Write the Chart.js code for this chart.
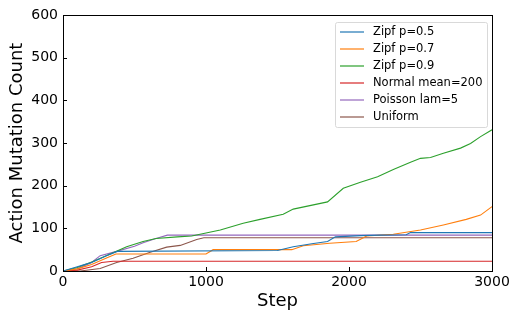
<!DOCTYPE html>
<html><head><meta charset="utf-8">
<script src="https://cdn.jsdelivr.net/npm/chart.js@4/dist/chart.umd.min.js"></script>
<style>html,body{margin:0;padding:0;background:#fff}#wrap{width:513px;height:312px}</style>
</head><body><div id="wrap"><canvas id="c" width="513" height="312"></canvas></div>
<script>
const seriesLabels = ["Zipf p=0.5","Zipf p=0.7","Zipf p=0.9","Normal mean=200","Poisson lam=5","Uniform"];
const seriesColors = ["#1f77b4","#ff7f0e","#2ca02c","#d62728","#9467bd","#8c564b"];
const xTicks = [0,1000,2000,3000];
const yTicks = [0,100,200,300,400,500,600];

const zipf05Steps = [0,100,150,200,300,380,1500,1610,1740,1850,1905,2080,2220,2400,2430,3000];
const zipf05Vals  = [0,10,15,20,35,46,48,57,64,69,80,83,84,85,90,90];
const zipf07Steps = [0,100,200,300,370,1000,1050,1600,1680,1865,2050,2124,2310,2500,2660,2820,2920,3000];
const zipf07Vals  = [0,5,15,30,40,40,50,50,59,65,69,82,86,96,108,121,131,151];
const zipf09Steps = [0,100,210,330,445,560,650,800,900,1000,1100,1260,1378,1540,1610,1850,1960,2080,2200,2310,2430,2500,2570,2660,2780,2850,2920,3000];
const zipf09Vals  = [0,8,22,40,57,69,76,80,82,89,96,112,121,133,145,162,194,208,221,238,255,264,266,276,288,299,315,331];
const normalSteps = [0,100,200,270,350,3000];
const normalVals  = [0,2,10,20,23,23];
const poissonSteps = [0,100,200,260,375,500,560,650,730,3000];
const poissonVals  = [0,5,20,36,46,58,66,76,84,84];
const uniformSteps = [0,120,260,375,490,610,725,820,935,985,3000];
const uniformVals  = [0,0,6,20,30,44,56,60,74,78,78];

const allSteps = [zipf05Steps,zipf07Steps,zipf09Steps,normalSteps,poissonSteps,uniformSteps];
const allVals  = [zipf05Vals,zipf07Vals,zipf09Vals,normalVals,poissonVals,uniformVals];

const datasets = seriesLabels.map((lab,i)=>({
  label: lab,
  data: allSteps[i].map((s,j)=>({x:s,y:allVals[i][j]})),
  borderColor: seriesColors[i],
  backgroundColor: seriesColors[i],
  borderWidth: 1.1,
  pointRadius: 0,
  fill: false,
  tension: 0
}));

const FONT = "'DejaVu Sans', sans-serif";

const framePlugin = {
  id: 'frame',
  afterDraw(chart){
    const ctx = chart.ctx, a = chart.chartArea;
    const xs = chart.scales.x, ys = chart.scales.y;
    ctx.save();
    ctx.strokeStyle = '#000'; ctx.lineWidth = 1;
    ctx.strokeRect(Math.round(a.left)+0.5, Math.round(a.top)+0.5, Math.round(a.right-a.left), Math.round(a.bottom-a.top));
    ctx.beginPath();
    xTicks.forEach(v=>{ const px = Math.round(xs.getPixelForValue(v))+0.5; ctx.moveTo(px,a.bottom); ctx.lineTo(px,a.bottom-4); });
    yTicks.forEach(v=>{ const py = Math.round(ys.getPixelForValue(v))+0.5; ctx.moveTo(a.left,py); ctx.lineTo(a.left+4,py); });
    ctx.stroke();
    // legend
    const lx = a.right - 157, ly = a.top + 7, lw = 152, lh = 105;
    ctx.fillStyle = 'rgba(255,255,255,0.8)';
    ctx.strokeStyle = '#d9d9d9';
    ctx.beginPath();
    if (ctx.roundRect) ctx.roundRect(lx+0.5, ly+0.5, lw, lh, 2); else ctx.rect(lx+0.5, ly+0.5, lw, lh);
    ctx.fill(); ctx.stroke();
    ctx.font = "11.5px " + FONT;
    ctx.textBaseline = 'middle';
    chart.data.datasets.forEach((ds,i)=>{
      const y = Math.round(ly + 10 + i*16.9);
      ctx.globalAlpha = 0.6;
      ctx.strokeStyle = ds.borderColor; ctx.lineWidth = 2;
      ctx.beginPath(); ctx.moveTo(lx+5, y); ctx.lineTo(lx+29, y); ctx.stroke();
      ctx.globalAlpha = 1;
      ctx.fillStyle = '#000';
      ctx.fillText(ds.label, lx+38, y);
    });
    ctx.restore();
  }
};

new Chart(document.getElementById('c'), {
  type: 'line',
  data: { datasets },
  options: {
    responsive: false,
    animation: false,
    events: [],
    layout: { padding: { top: 15, right: 21, left: 0, bottom: 0 } },
    plugins: { legend: { display: false }, tooltip: { enabled: false } },
    scales: {
      x: {
        type: 'linear', min: 0, max: 3000,
        afterBuildTicks(s){ s.ticks = xTicks.map(v=>({value:v})); },
        afterFit(s){ s.height = 41; },
        grid: { display: false, drawTicks: false },
        border: { display: false },
        ticks: { color: '#000', font: { family: FONT, size: 14 }, padding: 3, maxRotation: 0, callback: v => String(v) },
        title: { display: true, text: 'Step', color: '#000', font: { family: FONT, size: 18 }, padding: { top: 0, bottom: 0 } }
      },
      y: {
        type: 'linear', min: 0, max: 600,
        afterBuildTicks(s){ s.ticks = yTicks.map(v=>({value:v})); },
        afterFit(s){ s.width = 63; },
        grid: { display: false, drawTicks: false },
        border: { display: false },
        ticks: { color: '#000', font: { family: FONT, size: 14 }, padding: 5, callback: v => String(v) },
        title: { display: true, text: 'Action Mutation Count', color: '#000', font: { family: FONT, size: 18 }, padding: { top: 7, bottom: 0 } }
      }
    }
  },
  plugins: [framePlugin]
});
</script></body></html>
